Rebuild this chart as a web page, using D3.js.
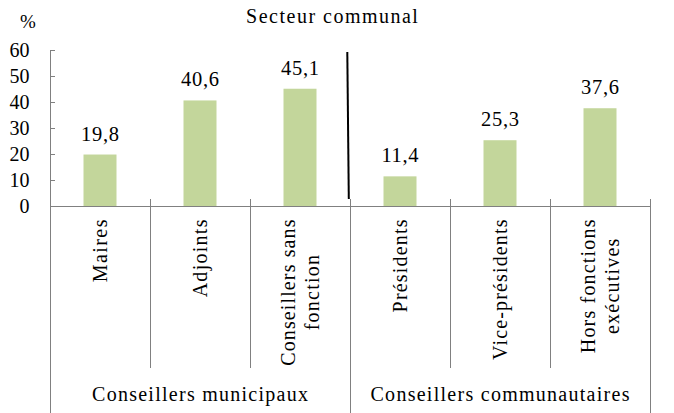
<!DOCTYPE html>
<html>
<head>
<meta charset="utf-8">
<script src="https://cdn.jsdelivr.net/npm/d3@7"></script>
</head>
<body style="margin:0">
<svg id="chart" width="674" height="413" font-family="Liberation Serif"></svg>
<script>
const categories = [
  ["Maires"],
  ["Adjoints"],
  ["Conseillers sans", "fonction"],
  ["Présidents"],
  ["Vice-présidents"],
  ["Hors fonctions", "exécutives"]
];
const values = [19.8, 40.6, 45.1, 11.4, 25.3, 37.6];
const valueLabels = ["19,8", "40,6", "45,1", "11,4", "25,3", "37,6"];
const groups = ["Conseillers municipaux", "Conseillers communautaires"];
const groupSizes = [3, 3];
const yTicks = [0, 10, 20, 30, 40, 50, 60];
const title = "Secteur communal";
const unit = "%";

(function () {
const H = 413;
const mLeft = 50, mRight = 650, mTop = 50, base = 206;
const axisColor = "#808080";
const barColor = "#c3d69b";

const svg = d3.select("#chart");
const txt = (sel) => sel.style("font-family", '"Liberation Serif"').attr("fill", "#000");
const widen = (sel, k) => sel.each(function () {
  const w = this.getComputedTextLength();
  d3.select(this).attr("textLength", w * k).attr("lengthAdjust", "spacing");
});
const keys = categories.map((d, i) => i);
const x = d3.scaleBand().domain(keys).range([mLeft, mRight]).padding(0);
const y = d3.scaleLinear().domain([0, 60]).range([base, mTop]);
const barW = x.bandwidth() * 0.33;

// title and unit
widen(txt(svg.append("text")).attr("x", 332).attr("y", 23).attr("text-anchor", "middle")
  .attr("font-size", 20).text(title), 1.15);
txt(svg.append("text")).attr("x", 28).attr("y", 28).attr("text-anchor", "middle")
  .attr("font-size", 19).text(unit);

// bars
svg.selectAll("rect.bar").data(values).join("rect").attr("class", "bar")
  .attr("x", (d, i) => x(i) + x.bandwidth() / 2 - barW / 2)
  .attr("width", barW)
  .attr("y", d => y(d))
  .attr("height", d => base - y(d))
  .attr("fill", barColor);

// value labels
widen(txt(svg.selectAll("text.val").data(values).join("text").attr("class", "val"))
  .attr("x", (d, i) => x(i) + x.bandwidth() / 2)
  .attr("y", d => y(d) - 14)
  .attr("text-anchor", "middle")
  .attr("font-size", 20.5)
  .text((d, i) => valueLabels[i]), 1.06);

// y axis
const yAxis = svg.append("g").attr("transform", `translate(${mLeft},0)`)
  .call(d3.axisRight(y).tickValues(yTicks).tickSize(5).tickFormat(""));
yAxis.select(".domain").remove();
yAxis.selectAll("line").attr("stroke", axisColor);
txt(svg.append("g").selectAll("text").data(yTicks).join("text"))
  .attr("x", 29.5).attr("y", d => y(d)).attr("dy", "0.34em")
  .attr("text-anchor", "end").attr("font-size", 20).text(d => d);
svg.append("line").attr("x1", mLeft + 0.5).attr("x2", mLeft + 0.5)
  .attr("y1", y(60)).attr("y2", H).attr("stroke", axisColor);

// x axis line
svg.append("line").attr("x1", mLeft).attr("x2", mRight)
  .attr("y1", base + 0.5).attr("y2", base + 0.5).attr("stroke", axisColor);

// dividers
let groupBounds = [0];
groupSizes.forEach((s, i) => groupBounds.push(groupBounds[i] + s));
d3.range(1, categories.length + 1).forEach(i => {
  const isGroup = groupBounds.includes(i);
  const xx = Math.round(mLeft + i * x.step()) + 0.5;
  svg.append("line").attr("x1", xx).attr("x2", xx)
    .attr("y1", base - 7).attr("y2", isGroup ? H : 368)
    .attr("stroke", axisColor);
});

// category labels (rotated)
const lineGap = 23.5;
const k = 1.13;
categories.forEach((lines, i) => {
  const cx = x(i) + x.bandwidth() / 2;
  const g = svg.append("g");
  const texts = lines.map((t, j) => txt(g.append("text"))
    .attr("font-size", 20)
    .attr("text-anchor", "middle").attr("dy", "0.35em").text(t));
  const lens = texts.map(t => t.node().getComputedTextLength() * k);
  const maxLen = d3.max(lens);
  const cy = 219.5 + maxLen / 2;
  texts.forEach((t, j) => {
    const lx = cx + (j - (lines.length - 1) / 2) * lineGap;
    t.attr("textLength", lens[j]).attr("lengthAdjust", "spacing")
     .attr("transform", `translate(${lx},${cy}) rotate(-90)`);
  });
});

// group labels
groups.forEach((gname, gi) => {
  const a = mLeft + groupBounds[gi] * x.step();
  const b = mLeft + groupBounds[gi + 1] * x.step();
  widen(txt(svg.append("text")).attr("x", (a + b) / 2).attr("y", 401)
    .attr("text-anchor", "middle").attr("font-size", 20).text(gname), 1.14);
});

// separator line between sectors
svg.append("line").attr("x1", 347.3).attr("y1", y(60) + 2)
  .attr("x2", 348.8).attr("y2", base - 7)
  .attr("stroke", "#000").attr("stroke-width", 2);
})();
</script>
</body>
</html>
